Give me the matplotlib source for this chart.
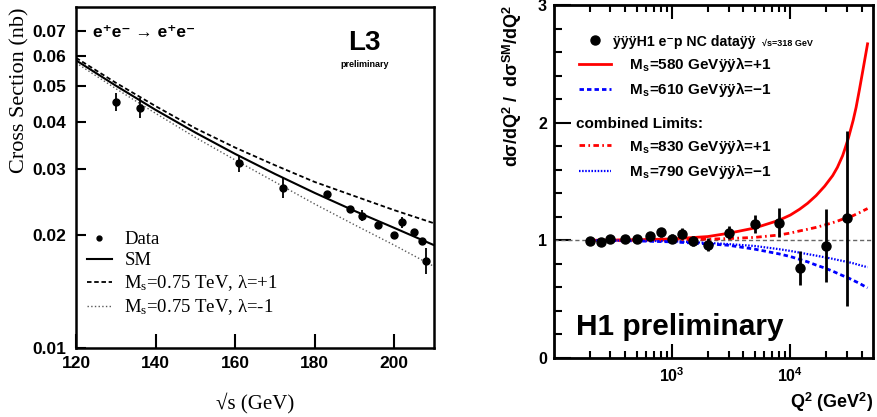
import numpy as np
import matplotlib.pyplot as plt
from matplotlib.ticker import FixedLocator, FixedFormatter, NullFormatter

plt.rcParams['font.family'] = ['Liberation Sans', 'DejaVu Sans']
plt.rcParams['mathtext.fontset'] = 'custom'
plt.rcParams['mathtext.rm'] = 'Liberation Serif'
plt.rcParams['mathtext.it'] = 'Liberation Serif:italic'
plt.rcParams['mathtext.bf'] = 'Liberation Sans:bold'

# ---- L3: e+e- -> e+e- cross section
sqrt_s = [130, 136, 161, 172, 183, 189, 192, 196, 200, 202, 205, 207, 208]
xsec = [0.0453, 0.0437, 0.0311, 0.0267, 0.0257, 0.0234, 0.0225, 0.0213, 0.0200,
        0.0216, 0.0204, 0.0193, 0.0171]
xsec_err = [0.0025, 0.0026, 0.0016, 0.0016, 0.0004, 0.0003, 0.00075, 0.0004,
            0.0003, 0.0007, 0.0004, 0.0003, 0.0014]

curve_s = [120, 130, 140, 150, 160, 170, 180, 190, 200, 210]
sm = [0.0584, 0.0500, 0.0431, 0.0375, 0.0329, 0.0291, 0.0259, 0.0232, 0.0209, 0.0188]
ms_plus = [0.0593, 0.0509, 0.0441, 0.0385, 0.0342, 0.0307, 0.0277, 0.0254, 0.0233, 0.0215]
ms_minus = [0.0575, 0.0491, 0.0422, 0.0364, 0.0317, 0.0277, 0.0242, 0.0213, 0.0188, 0.0165]

left_yticks = [0.01, 0.02, 0.03, 0.04, 0.05, 0.06, 0.07]
left_xticks = [120, 140, 160, 180, 200]

# ---- H1: ratio to SM
q2 = [200, 250, 300, 400, 500, 650, 800, 1000, 1200, 1500, 2000, 3000, 5000,
      8000, 12000, 20000, 30000]
ratio = [0.994, 0.985, 1.014, 1.009, 1.014, 1.033, 1.068, 1.014, 1.058, 0.994,
         0.962, 1.066, 1.140, 1.150, 0.767, 0.953, 1.188]
ratio_err = [0.02, 0.02, 0.025, 0.025, 0.03, 0.035, 0.04, 0.04, 0.045, 0.045,
             0.055, 0.055, 0.075, 0.125, 0.145, 0.31, 0.745]

curve_q2 = [200, 300, 500, 1000, 2000, 3000, 5000, 8000, 10000, 12000, 14000,
            16500, 19500, 22800, 25000, 27700, 29000, 31000, 34000, 36000,
            38400, 41000, 45000]
h1_580 = [1.0, 1.002, 1.005, 1.012, 1.032, 1.06, 1.105, 1.17, 1.215, 1.265, 1.315,
          1.38, 1.46, 1.55, 1.62, 1.72, 1.78, 1.87, 2.02, 2.13, 2.28, 2.44, 2.67]
h1_610 = [1.0, 0.998, 0.995, 0.987, 0.97, 0.958, 0.925, 0.885, 0.862, 0.838, 0.817,
          0.79, 0.765, 0.738, 0.72, 0.70, 0.692, 0.68, 0.66, 0.648, 0.635, 0.618, 0.596]
h1_830 = [1.0, 1.0, 1.002, 1.004, 1.01, 1.015, 1.025, 1.045, 1.062, 1.08, 1.094,
          1.11, 1.13, 1.15, 1.163, 1.18, 1.188, 1.195, 1.21, 1.222, 1.235, 1.25, 1.27]
h1_790 = [1.0, 0.999, 0.997, 0.992, 0.978, 0.968, 0.952, 0.925, 0.91, 0.895, 0.883,
          0.87, 0.856, 0.843, 0.834, 0.825, 0.82, 0.815, 0.805, 0.798, 0.79, 0.782, 0.772]

q2_major = [1e3, 1e4]
q2_minor = [200, 300, 400, 500, 600, 700, 800, 900,
            2000, 3000, 4000, 5000, 6000, 7000, 8000, 9000,
            20000, 30000, 40000]

fig = plt.figure(figsize=(8.77, 4.17), dpi=100, facecolor='white')

# ================= left panel =================
ax = fig.add_axes([0.0867, 0.1655, 0.408, 0.8177])
ax.set_yscale('log')
ax.set_xlim(120, 210)
ax.set_ylim(0.01, 0.081)

ax.plot(curve_s, sm, color='black', lw=1.5, label='SM')
ax.plot(curve_s, ms_plus, color='black', lw=1.3, dashes=(2.5, 1.5),
        label=r'M$_\mathrm{s}$=0.75 TeV, λ=+1')
ax.plot(curve_s, ms_minus, color='0.35', lw=1.0, ls=':',
        label=r'M$_\mathrm{s}$=0.75 TeV, λ=-1')
ax.errorbar(sqrt_s, xsec, yerr=xsec_err, fmt='o', color='black', ms=5,
            elinewidth=1.3, capsize=0, zorder=5)
data_h, = ax.plot([], [], 'o', color='black', ms=3.5, label='Data')

h, l = ax.get_legend_handles_labels()
order = [3, 0, 1, 2]
ax.legend([h[i] for i in order], [l[i] for i in order], loc='upper left',
          bbox_to_anchor=(0.03, 0.343), frameon=False, borderpad=0,
          borderaxespad=0, handlelength=1.35, handletextpad=0.65,
          labelspacing=0.22, numpoints=1,
          prop={'family': ['Liberation Serif', 'DejaVu Serif'], 'size': 13.5})

ax.yaxis.set_major_locator(FixedLocator(left_yticks))
ax.yaxis.set_major_formatter(FixedFormatter(['%.2f' % v for v in left_yticks]))
ax.yaxis.set_minor_locator(FixedLocator([]))
ax.yaxis.set_minor_formatter(NullFormatter())
ax.set_xticks(left_xticks)
ax.tick_params(direction='in', width=1.5, labelsize=12.5)
ax.tick_params(axis='y', length=7, pad=7)
ax.tick_params(axis='x', length=10, pad=6)
for lab in ax.get_xticklabels() + ax.get_yticklabels():
    lab.set_fontweight('bold')
for sp in ax.spines.values():
    sp.set_linewidth(1.8)

ax.set_ylabel('Cross Section (nb)', loc='top', fontsize=16,
              family=['Liberation Serif', 'DejaVu Serif'], labelpad=2)
ax.set_xlabel('√s (GeV)', fontsize=15,
              family=['Liberation Serif', 'DejaVu Serif'], labelpad=15)

ax.text(0.047, 0.924, 'e⁺e⁻ → e⁺e⁻', transform=ax.transAxes, fontsize=12.5,
        fontweight='bold', va='center', ha='left')
ax.text(0.807, 0.895, 'L3', transform=ax.transAxes, fontsize=20,
        fontweight='bold', va='center', ha='center')
ax.text(0.807, 0.832, 'preliminary', transform=ax.transAxes, fontsize=6.5,
        fontweight='bold', va='center', ha='center')

# ================= right panel =================
bx = fig.add_axes([0.6317, 0.1415, 0.3637, 0.8465])
bx.set_xscale('log')
bx.set_xlim(100, 5e4)
bx.set_ylim(0, 3)

bx.axhline(1, color='0.4', lw=1, dashes=(3, 2))
r580, = bx.plot(curve_q2, h1_580, color='red', lw=2)
b610, = bx.plot(curve_q2, h1_610, color='blue', lw=2, dashes=(1.6, 1.1))
r830, = bx.plot(curve_q2, h1_830, color='red', lw=2, dashes=(2, 1.2, 0.6, 1.2))
b790, = bx.plot(curve_q2, h1_790, color='blue', lw=1.6, dashes=(0.7, 0.7))
bx.errorbar(q2, ratio, yerr=ratio_err, fmt='o', color='black', ms=6.5,
            elinewidth=2, capsize=0, zorder=5)
dat, = bx.plot([], [], 'o', color='black', ms=6.5)

leg1 = bx.legend([dat, r580, b610],
                 ['ÿÿÿH1 e⁻p NC dataÿÿ',
                  r'    M$_\mathbf{s}$=580 GeVÿÿλ=+1',
                  r'    M$_\mathbf{s}$=610 GeVÿÿλ=−1'],
                 loc='upper left', bbox_to_anchor=(0.078, 0.916), frameon=False,
                 borderpad=0, borderaxespad=0, handlelength=2.1,
                 handletextpad=0.15, labelspacing=0.42, numpoints=1,
                 prop={'weight': 'bold', 'size': 11})
leg1.get_texts()[0].set_fontsize(10.2)
bx.add_artist(leg1)
bx.legend([r830, b790],
          [r'    M$_\mathbf{s}$=830 GeVÿÿλ=+1',
           r'    M$_\mathbf{s}$=790 GeVÿÿλ=−1'],
          loc='upper left', bbox_to_anchor=(0.078, 0.627), frameon=False,
          borderpad=0, borderaxespad=0, handlelength=2.1,
          handletextpad=0.15, labelspacing=0.42,
          prop={'weight': 'bold', 'size': 11})
bx.text(0.069, 0.663, 'combined Limits:', transform=bx.transAxes, fontsize=11,
        fontweight='bold', va='center', ha='left')
bx.text(0.652, 0.89, '√s=318 GeV', transform=bx.transAxes, fontsize=6.5,
        fontweight='bold', va='center', ha='left')
bx.text(0.069, 0.065, 'H1 preliminary', transform=bx.transAxes, fontsize=21.5,
        fontweight='bold', va='baseline', ha='left')

bx.xaxis.set_major_locator(FixedLocator(q2_major))
bx.xaxis.set_major_formatter(FixedFormatter([r'$\mathbf{10^{3}}$', r'$\mathbf{10^{4}}$']))
bx.xaxis.set_minor_locator(FixedLocator(q2_minor))
bx.xaxis.set_minor_formatter(NullFormatter())
bx.set_yticks([0, 1, 2, 3])
bx.set_yticks(np.arange(0, 3.01, 0.2), minor=True)
bx.tick_params(which='both', direction='in', width=1.5, top=True, labelsize=11.5)
bx.tick_params(axis='y', which='major', length=12, pad=5)
bx.tick_params(axis='y', which='minor', length=6)
bx.tick_params(axis='x', which='major', length=10, pad=6)
bx.tick_params(axis='x', which='minor', length=5)
for lab in bx.get_yticklabels():
    lab.set_fontweight('bold')
for sp in bx.spines.values():
    sp.set_linewidth(2)

bx.set_ylabel(r'dσ/dQ$^\mathbf{2}$ /  dσ$^\mathbf{SM}$/dQ$^\mathbf{2}$', loc='top',
              fontsize=13, fontweight='bold', labelpad=10)
bx.set_xlabel(r'Q$^\mathbf{2}$ (GeV$^\mathbf{2}$)', loc='right', fontsize=13,
              fontweight='bold', labelpad=4)

fig.savefig('out.png', dpi=100, facecolor='white')
